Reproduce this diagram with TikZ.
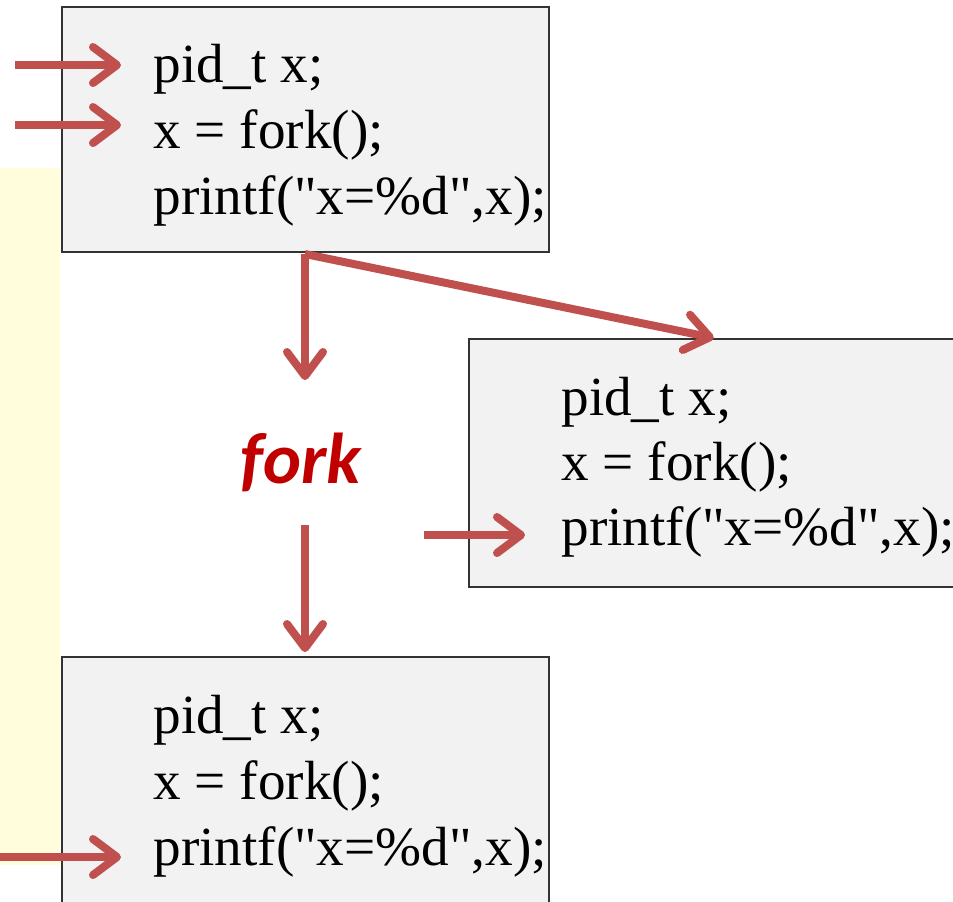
\documentclass[tikz,border=0pt]{standalone}
\usepackage{fontspec}
\setmainfont{Liberation Serif}[Ligatures=TeXOff]
\newfontfamily\forkfont{Carlito}
\usetikzlibrary{arrows.meta}
\definecolor{arrowred}{HTML}{C0504D}
\definecolor{forkred}{HTML}{C00000}
\definecolor{boxgray}{HTML}{F2F2F2}
\definecolor{notebg}{HTML}{FFFDDC}
\begin{document}
\begin{tikzpicture}[x=0.5pt, y=-0.5pt, line join=miter,
    procbox/.style={draw=black!80, fill=boxgray, line width=0.8pt, inner sep=0pt, anchor=north west},
    codeline/.style={inner sep=0pt, anchor=base west, font=\fontsize{27.6}{33}\selectfont},
    flow/.style={draw=arrowred, line width=4pt, -{Straight Barb[round, length=12pt, width=18pt]}}]
    \clip (0,0) rectangle (953,901);
    \fill[notebg] (0,168) rectangle (60,865);
    \node[procbox, minimum width=243.5pt, minimum height=122.5pt] (parent) at (61,6) {};
    \node[procbox, minimum width=245pt, minimum height=124pt] (child) at (468,338) {};
    \node[procbox, minimum width=243.5pt, minimum height=130pt] (kid) at (61,656) {};
    \node[codeline] (pA) at (153,82) {pid\_t x;};
    \node[codeline] (pB) at (153,148) {x = fork();};
    \node[codeline] (pC) at (153,214) {printf("x=\%d",x);};
    \node[codeline] (cA) at (561,415) {pid\_t x;};
    \node[codeline] (cB) at (561,480) {x = fork();};
    \node[codeline] (cC) at (561,545) {printf("x=\%d",x);};
    \node[codeline] (kA) at (153,733) {pid\_t x;};
    \node[codeline] (kB) at (153,799) {x = fork();};
    \node[codeline] (kC) at (153,865) {printf("x=\%d",x);};
    \node[inner sep=0pt, anchor=base, text=forkred, font=\forkfont\bfseries\itshape\fontsize{36}{40}\selectfont] (forkLbl) at (301,483) {fork};
    \coordinate (inA) at (15,65);
    \coordinate (inB) at (15,125);
    \coordinate (inC) at (424,535);
    \coordinate (inD) at (0,857);
    \coordinate (split) at (305,254);
    \coordinate (forkTop) at (305,380);
    \coordinate (forkBot) at (305,525);
    \draw[flow, shorten >=16pt] (inA) -- (inA -| pA.west);
    \draw[flow, shorten >=16pt] (inB) -- (inB -| pB.west);
    \draw[flow, shorten >=18pt] (inC) -- (inC -| cC.west);
    \draw[flow, shorten >=16pt] (inD) -- (inD -| kC.west);
    \draw[flow] (split) -- (forkTop);
    \draw[flow] (split) -- (child.north);
    \draw[flow, shorten >=2pt] (forkBot) -- (forkBot |- kid.north);
\end{tikzpicture}
\end{document}
